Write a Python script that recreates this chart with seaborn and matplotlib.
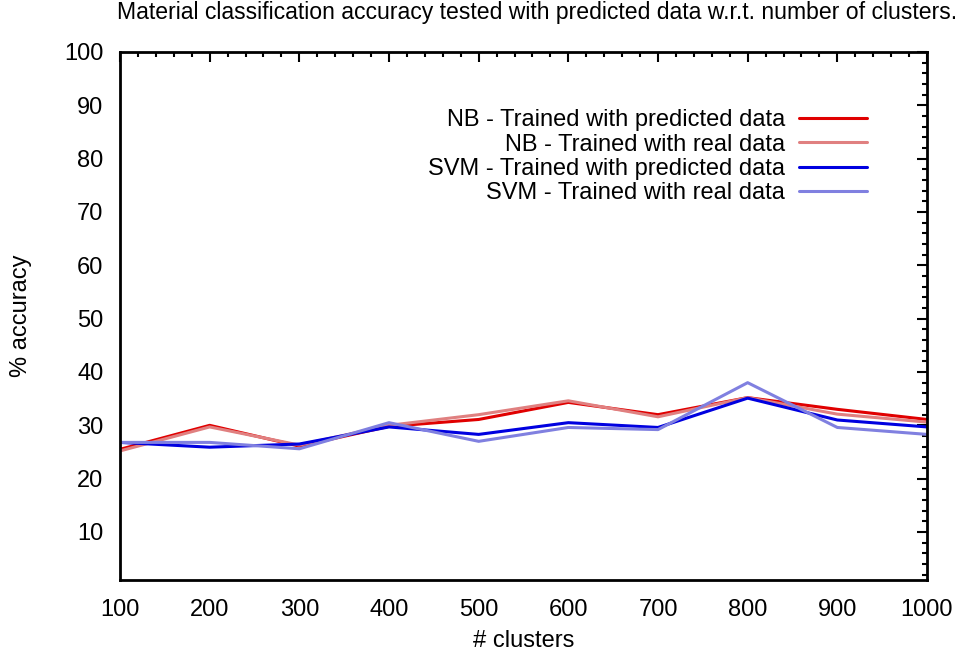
import matplotlib
matplotlib.use("Agg")
import matplotlib.pyplot as plt
from matplotlib.ticker import MultipleLocator
import seaborn as sns
import pandas as pd

clusters = [100, 200, 300, 400, 500, 600, 700, 800, 900, 1000]
nb_pred = [25.5, 30.0, 26.1, 29.8, 31.1, 34.3, 32.0, 35.2, 33.0, 31.1]
nb_real = [25.2, 29.7, 26.3, 30.0, 32.0, 34.6, 31.6, 35.2, 32.1, 30.6]
svm_pred = [26.8, 25.9, 26.5, 29.7, 28.3, 30.5, 29.6, 35.1, 31.0, 29.7]
svm_real = [26.8, 26.8, 25.6, 30.5, 27.0, 29.6, 29.2, 38.0, 29.6, 28.3]
series_names = ["NB - Trained with predicted data", "NB - Trained with real data",
                "SVM - Trained with predicted data", "SVM - Trained with real data"]
colors = ["#e00000", "#e08080", "#0000e0", "#8080e0"]

rows = []
for name, vals in zip(series_names, [nb_pred, nb_real, svm_pred, svm_real]):
    for c, v in zip(clusters, vals):
        rows.append({"clusters": c, "accuracy": v, "series": name})
df = pd.DataFrame(rows)

sns.set_style("white")
plt.rcParams['font.family'] = ['Liberation Sans', 'DejaVu Sans']
plt.rcParams['text.color'] = 'black'
plt.rcParams['axes.labelcolor'] = 'black'

FS = 17
fig = plt.figure(figsize=(9.68, 6.55), dpi=100)
ax = fig.add_axes([120/968, 1-580/655, (927-120)/968, (580-52)/655])
sns.lineplot(data=df, x="clusters", y="accuracy", hue="series", hue_order=series_names,
             palette=colors, linewidth=2.2, ax=ax)

ax.set_xlim(100, 1000)
ax.set_ylim(1, 100)
ax.xaxis.set_major_locator(MultipleLocator(100))
ax.xaxis.set_minor_locator(MultipleLocator(20))
ax.set_yticks([10, 20, 30, 40, 50, 60, 70, 80, 90, 100])
ax.yaxis.set_minor_locator(MultipleLocator(2))
ax.tick_params(which='both', direction='in', top=True, right=True, width=1.5, labelsize=FS, colors='black')
ax.tick_params(which='major', length=7)
ax.tick_params(axis='x', which='major', pad=14)
ax.tick_params(axis='y', which='major', pad=12)
ax.tick_params(which='minor', length=3.5)
for s in ax.spines.values():
    s.set_linewidth(2)
    s.set_color('black')

ax.set_xlabel("# clusters", fontsize=FS, labelpad=6)
ax.set_ylabel("% accuracy", fontsize=FS, labelpad=23)
fig.text(537/968, 1-13/655, "Material classification accuracy tested with predicted data w.r.t. number of clusters.",
         ha='center', va='center', fontsize=16.6)

leg = ax.legend(loc='upper right', bbox_to_anchor=(0.940, 0.914), frameon=False, markerfirst=False,
                fontsize=FS, handlelength=2.85, labelspacing=0.1, borderpad=0, handletextpad=0.6)
for t in leg.get_texts():
    t.set_ha('right')
leg._legend_box.align = "right"

fig.savefig("out.png", dpi=100)
